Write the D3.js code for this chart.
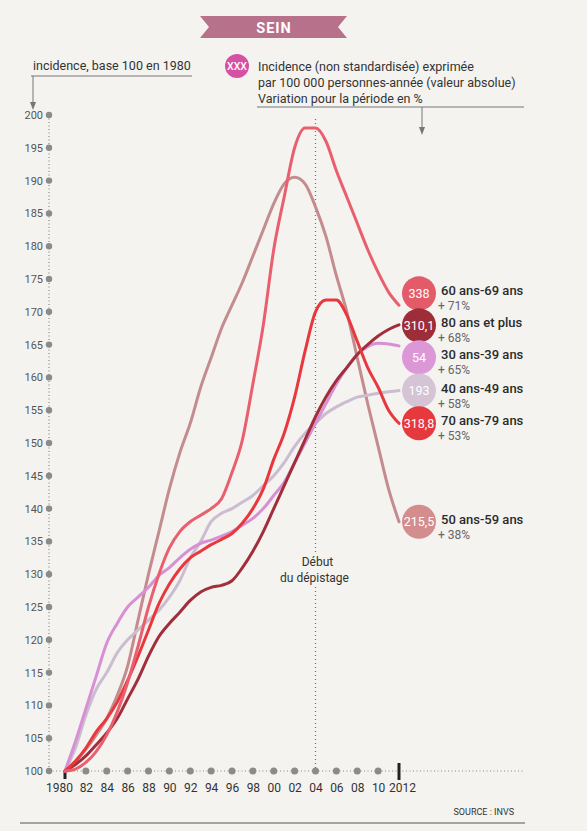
<!DOCTYPE html>
<html>
<head>
<meta charset="utf-8">
<script src="https://cdn.jsdelivr.net/npm/d3@7"></script>
<style>
  html, body { margin: 0; padding: 0; background: #f4f3f0; }
  svg { display: block; font-family: Roboto, "Noto Sans", sans-serif; }
</style>
</head>
<body>
<div id="chart"></div>
<script>
/* Sein — incidence par tranche d'âge, base 100 en 1980 */
const years = [1980, 1981, 1982, 1983, 1984, 1985, 1986, 1987, 1988, 1989, 1990,
  1991, 1992, 1993, 1994, 1995, 1996, 1997, 1998, 1999, 2000,
  2001, 2002, 2003, 2004, 2005, 2006, 2007, 2008, 2009, 2010, 2011, 2012];

const inc30_39 = [100, 104.5, 109.5, 114.5, 119.5, 122.5, 125, 126.5, 128, 129.8, 131,
  132.5, 133.8, 134.7, 135.2, 135.8, 136.5, 137.5, 138.5, 140, 142,
  144, 147, 150, 153, 156, 159, 161.5, 163.5, 164.7, 165.2, 165.1, 164.8];
const inc40_49 = [100, 103.5, 108.5, 112.5, 115, 118, 120, 121.5, 123, 124.5, 126.5,
  129, 132.5, 135, 138, 139.3, 140, 141, 142, 143.5, 145,
  147, 149.5, 151.5, 153, 154.5, 155.5, 156.3, 157, 157.3, 157.6, 157.8, 158];
const inc50_59 = [100, 101.5, 103.3, 105.5, 108, 111.5, 116, 123, 130, 136.5, 143,
  148.5, 153, 158.5, 163, 167.5, 171, 174.5, 178.5, 182.5, 186.5,
  189.5, 190.5, 189.5, 186, 181.5, 175.5, 170, 163, 156, 149.5, 143, 138];
const inc60_69 = [100, 100.3, 101.3, 103, 105.5, 109, 113.5, 119, 125, 130, 134,
  136.5, 138, 139, 140, 141.5, 145.5, 150.5, 159, 168, 179.5,
  187.5, 195, 198, 198, 196, 191.5, 187.5, 183.5, 179.5, 176, 173, 171];
const inc70_79 = [100, 101.5, 103.5, 106, 108, 110.5, 113.8, 117.5, 121.5, 125.5, 128.5,
  130.8, 132.5, 133.5, 134.5, 135.3, 136.2, 137.8, 140, 143, 147.5,
  151.5, 157, 164, 170, 171.8, 171.8, 169.5, 165.5, 161.5, 158.5, 155, 153];
const inc80p = [100, 101, 102.3, 104, 105.8, 108, 111, 114, 117.5, 120.5, 122.5,
  124.2, 126, 127.3, 128, 128.3, 129, 131, 133.5, 136.5, 140,
  143.5, 147, 150.5, 154, 157, 159.5, 161.5, 163.5, 165, 166.3, 167.3, 168];

const groupNames = ["30 ans-39 ans", "40 ans-49 ans", "50 ans-59 ans", "60 ans-69 ans", "70 ans-79 ans", "80 ans et plus"];
const groupAbs = ["54", "193", "215,5", "338", "318,8", "310,1"];
const groupVar = ["+65%", "+58%", "+38%", "+71%", "+53%", "+68%"];
const groupSeries = [inc30_39, inc40_49, inc50_59, inc60_69, inc70_79, inc80p];

const yTicks = [100, 105, 110, 115, 120, 125, 130, 135, 140, 145, 150,
  155, 160, 165, 170, 175, 180, 185, 190, 195, 200];
const xTickYears = [1980, 1982, 1984, 1986, 1988, 1990, 1992, 1994, 1996, 1998,
  2000, 2002, 2004, 2006, 2008, 2010, 2012];
const xTickLabels = ["1980", "82", "84", "86", "88", "90", "92", "94", "96", "98",
  "00", "02", "04", "06", "08", "10", "2012"];
const screeningYear = 2004;

const lineColors = ["#d890d4", "#cbbcd0", "#c48c8e", "#e95f6d", "#e8383e", "#a12f3b"];
const bubbleColors = ["#dc97d7", "#d4c4d6", "#d48d8d", "#e35b69", "#e6393d", "#9d2d39"];
const drawOrder = [2, 1, 0, 5, 4, 3];

const W = 587, Ht = 831;
const svg = d3.select("#chart").append("svg").attr("width", W).attr("height", Ht);
svg.append("rect").attr("width", W).attr("height", Ht).attr("fill", "#f4f3f0");

const x = d3.scaleLinear().domain([1980, 2012]).range([65, 399]);
const y = d3.scaleLinear().domain([100, 200]).range([771, 115]);
const grey = "#8b8b8b", ink = "#333";

// title ribbon
svg.append("path")
  .attr("d", "M200,16 L347,16 L338,27 L347,38 L200,38 L209,27 Z")
  .attr("fill", "#b7718a");
svg.append("text").attr("x", 274).attr("y", 32.5).attr("text-anchor", "middle")
  .attr("fill", "#fff").attr("font-weight", 700).attr("font-size", 14.5)
  .attr("letter-spacing", 1).text("SEIN");

// y caption + arrow
svg.append("text").attr("x", 33).attr("y", 70).attr("font-size", 12.5).attr("fill", ink)
  .text("incidence, base 100 en 1980");
svg.append("line").attr("x1", 31).attr("x2", 192).attr("y1", 76).attr("y2", 76)
  .attr("stroke", "#777").attr("stroke-width", 1);
svg.append("line").attr("x1", 33).attr("x2", 33).attr("y1", 76).attr("y2", 104)
  .attr("stroke", "#777").attr("stroke-width", 1);
svg.append("path").attr("d", "M30,102 L36,102 L33,110 Z").attr("fill", "#777");

// legend
svg.append("circle").attr("cx", 237).attr("cy", 66).attr("r", 12).attr("fill", "#d651a4");
svg.append("text").attr("x", 237).attr("y", 70).attr("text-anchor", "middle")
  .attr("fill", "#fff").attr("font-size", 10.5).attr("font-weight", 500).text("XXX");
["Incidence (non standardisée) exprimée",
 "par 100 000 personnes-année (valeur absolue)",
 "Variation pour la période en %"].forEach((t, i) => {
  svg.append("text").attr("x", 258).attr("y", 71 + i * 16).attr("font-size", 12.5)
    .attr("fill", ink).text(t);
});
svg.append("line").attr("x1", 257).attr("x2", 524).attr("y1", 107).attr("y2", 107)
  .attr("stroke", "#777").attr("stroke-width", 1);
svg.append("line").attr("x1", 422).attr("x2", 422).attr("y1", 107).attr("y2", 128)
  .attr("stroke", "#777").attr("stroke-width", 1);
svg.append("path").attr("d", "M419,127 L425,127 L422,135 Z").attr("fill", "#777");

// y axis: dotted rule, dots, labels
svg.append("line").attr("x1", 49).attr("x2", 49).attr("y1", y(200)).attr("y2", y(100))
  .attr("stroke", "#888").attr("stroke-width", 1.2).attr("stroke-dasharray", "1,2.5");
const ya = svg.append("g").attr("transform", "translate(49,0)")
  .call(d3.axisLeft(y).tickValues(yTicks).tickSize(0).tickPadding(6));
ya.select(".domain").remove();
ya.selectAll("text").attr("font-size", 11).attr("fill", "#555")
  .attr("font-family", "Roboto, sans-serif");
svg.selectAll("circle.ydot").data(yTicks).join("circle").attr("class", "ydot")
  .attr("cx", 49).attr("cy", d => y(d)).attr("r", 3.2).attr("fill", grey);

// x axis: dotted rule, dots, labels
svg.append("line").attr("x1", 49).attr("x2", 525).attr("y1", y(100)).attr("y2", y(100))
  .attr("stroke", "#888").attr("stroke-width", 1.2).attr("stroke-dasharray", "1,2.5");
const xa = svg.append("g").attr("transform", `translate(0,${y(100)})`)
  .call(d3.axisBottom(x).tickValues(xTickYears).tickFormat((d, i) => xTickLabels[i])
    .tickSize(0).tickPadding(12));
xa.select(".domain").remove();
xa.selectAll("text").attr("font-size", 12).attr("fill", ink)
  .attr("font-family", "Roboto, sans-serif")
  .attr("dx", (d, i) => i === 0 ? -6 : (i === xTickYears.length - 1 ? 3 : 0));
svg.selectAll("circle.xdot").data(xTickYears.slice(1, -1)).join("circle").attr("class", "xdot")
  .attr("cx", d => x(d)).attr("cy", y(100)).attr("r", 3.5).attr("fill", grey);
svg.append("rect").attr("x", x(1980) - 1.5).attr("y", y(100)).attr("width", 3).attr("height", 8)
  .attr("fill", "#222");
svg.append("rect").attr("x", x(2012) - 1.5).attr("y", y(100) - 8).attr("width", 3).attr("height", 17)
  .attr("fill", "#222");

// screening start marker
svg.append("line").attr("x1", x(screeningYear)).attr("x2", x(screeningYear))
  .attr("y1", y(200) + 4).attr("y2", y(100))
  .attr("stroke", "#777").attr("stroke-width", 1.3).attr("stroke-dasharray", "1,3");
svg.append("rect").attr("x", x(screeningYear) - 40).attr("y", 552).attr("width", 82).attr("height", 34)
  .attr("fill", "#f4f3f0");
svg.append("text").attr("x", x(screeningYear) + 2).attr("y", 566).attr("text-anchor", "middle")
  .attr("font-size", 12).attr("fill", ink).text("Début");
svg.append("text").attr("x", x(screeningYear) - 1).attr("y", 582).attr("text-anchor", "middle")
  .attr("font-size", 12).attr("fill", ink).text("du dépistage");

// lines
const line = d3.line().x((d, i) => x(years[i])).y(d => y(d)).curve(d3.curveMonotoneX);
drawOrder.forEach(k => {
  svg.append("path").datum(groupSeries[k]).attr("d", line)
    .attr("fill", "none").attr("stroke", lineColors[k]).attr("stroke-width", 3)
    .attr("stroke-linejoin", "round").attr("stroke-linecap", "round");
});

// end labels: bubbles spread apart around their end values
const ends = groupSeries.map((s, k) => ({ k, y: y(s[s.length - 1]) }))
  .sort((a, b) => a.y - b.y);
const gap = 32;
for (let it = 0; it < 60; it++) {
  for (let i = 1; i < ends.length; i++) {
    const d = ends[i].y - ends[i - 1].y;
    if (d < gap) { const s = (gap - d) / 2; ends[i - 1].y -= s; ends[i].y += s; }
  }
}
const bx = 419;
ends.forEach(e => {
  const k = e.k, g = svg.append("g");
  g.append("circle").attr("cx", bx).attr("cy", e.y).attr("r", 17).attr("fill", bubbleColors[k]);
  g.append("text").attr("x", bx).attr("y", e.y + 4.5).attr("text-anchor", "middle")
    .attr("fill", "#fff").attr("font-size", 12.5).text(groupAbs[k]);
  g.append("text").attr("x", 441).attr("y", e.y + 2).attr("font-size", 13)
    .attr("font-weight", 500).attr("fill", "#2b2b2b").text(groupNames[k]);
  g.append("text").attr("x", 438).attr("y", e.y + 17).attr("font-size", 12)
    .attr("fill", "#666").text(groupVar[k].replace("+", "+ "));
});

// source + bottom rule
svg.append("text").attr("x", 514).attr("y", 815).attr("text-anchor", "end")
  .attr("font-size", 9).attr("fill", ink).text("SOURCE : INVS");
svg.append("line").attr("x1", 20).attr("x2", 525).attr("y1", 823).attr("y2", 823)
  .attr("stroke", "#888").attr("stroke-width", 1.5);
</script>
</body>
</html>
